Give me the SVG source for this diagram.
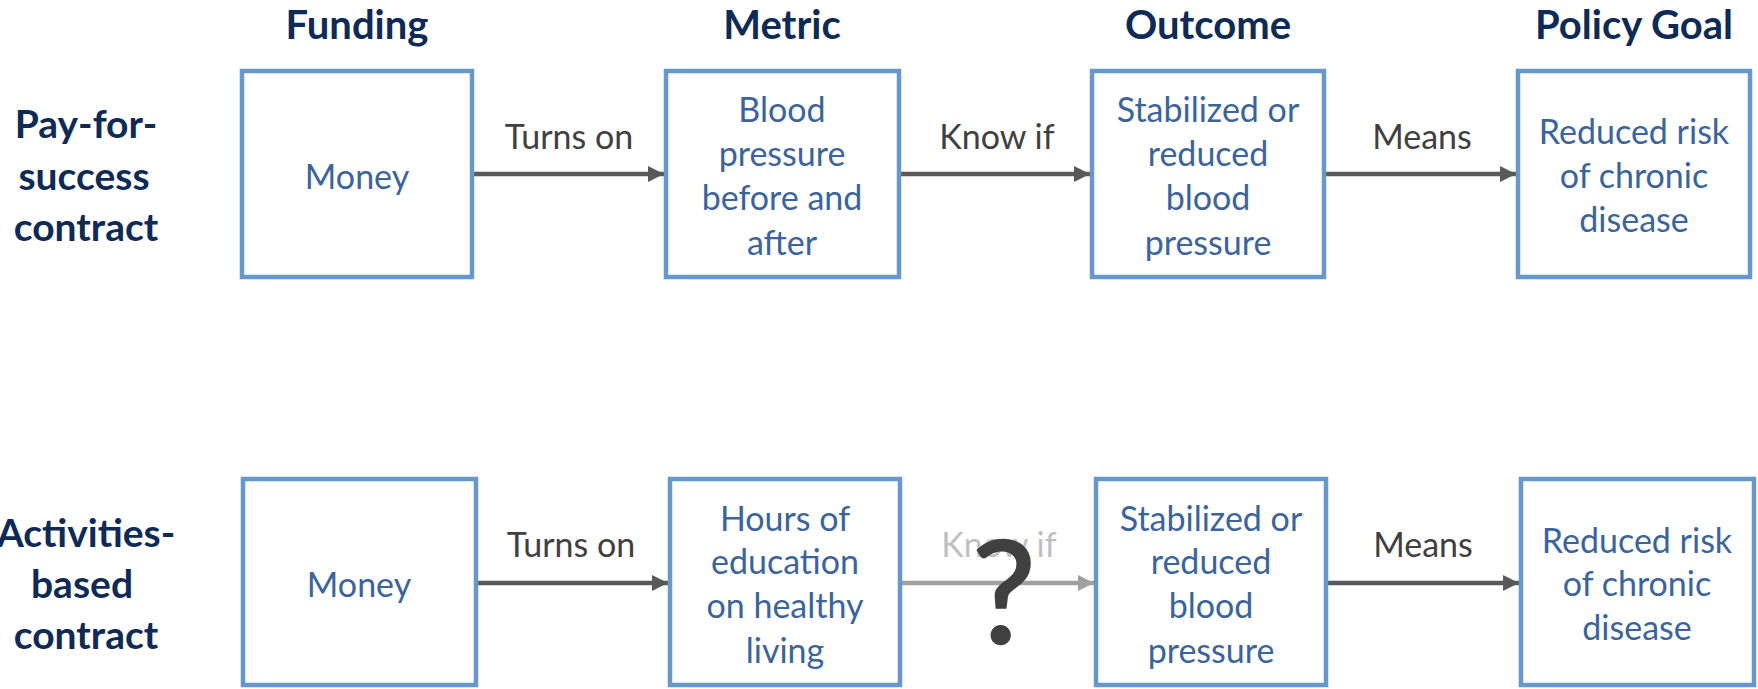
<svg xmlns="http://www.w3.org/2000/svg" width="1758" height="689" viewBox="0 0 1758 689">
<defs>
<style>
.box{fill:#ffffff;stroke:#6698CB;stroke-width:4.5}
.hd{font-family:Lato,"Open Sans",sans-serif;font-weight:bold;font-size:40px;fill:#0E2A55;text-anchor:middle}
.rl{font-family:Lato,"Open Sans",sans-serif;font-weight:bold;font-size:39px;fill:#0E2A55;text-anchor:middle}
.bt{font-family:Lato,"Open Sans",sans-serif;font-size:34px;fill:#3A649B;text-anchor:middle}
.al{font-family:Lato,"Open Sans",sans-serif;font-size:34px;fill:#404040;text-anchor:middle}
.ag{font-family:Lato,"Open Sans",sans-serif;font-size:34px;fill:#BFBFBF;text-anchor:middle}
.ln{stroke:#595959;stroke-width:4.5;fill:none}
.lg{stroke:#A0A0A0;stroke-width:4.5;fill:none}
.qm{font-family:Lato,"Open Sans",sans-serif;font-size:142px;fill:#404040;stroke:#404040;stroke-width:2.5;text-anchor:middle}
</style>
<marker id="ah" viewBox="0 0 16 16" refX="16" refY="8" markerWidth="16" markerHeight="16" markerUnits="userSpaceOnUse" orient="auto"><path d="M0,0 L16,8 L0,16 z" fill="#595959"/></marker>
<marker id="ahg" viewBox="0 0 16 16" refX="16" refY="8" markerWidth="16" markerHeight="16" markerUnits="userSpaceOnUse" orient="auto"><path d="M0,0 L16,8 L0,16 z" fill="#A0A0A0"/></marker>
</defs>
<rect width="1758" height="689" fill="#ffffff"/>
<g id="headers">
<text class="hd" x="357" y="39">Funding</text>
<text class="hd" x="782" y="39">Metric</text>
<text class="hd" x="1208" y="39">Outcome</text>
<text class="hd" x="1634" y="39">Policy Goal</text>
</g>
<g id="row1-label">
<text class="rl" x="86" y="138">Pay-for-</text>
<text class="rl" x="84" y="190">success</text>
<text class="rl" x="86" y="241">contract</text>
</g>
<g id="row2-label">
<text class="rl" x="86" y="547">Activities-</text>
<text class="rl" x="82" y="598">based</text>
<text class="rl" x="86" y="649">contract</text>
</g>
<g id="connectors">
<line class="ln" x1="474" y1="174" x2="664" y2="174" marker-end="url(#ah)"/>
<line class="ln" x1="901" y1="174" x2="1090" y2="174" marker-end="url(#ah)"/>
<line class="ln" x1="1326" y1="174" x2="1516" y2="174" marker-end="url(#ah)"/>
<line class="ln" x1="478" y1="583" x2="668" y2="583" marker-end="url(#ah)"/>
<line class="lg" x1="902" y1="583" x2="1094" y2="583" marker-end="url(#ahg)"/>
<line class="ln" x1="1328" y1="583" x2="1519" y2="583" marker-end="url(#ah)"/>
<text class="al" x="569" y="149">Turns on</text>
<text class="al" x="997" y="149">Know if</text>
<text class="al" x="1422" y="149">Means</text>
<text class="al" x="571" y="557">Turns on</text>
<text class="ag" x="999" y="557">Know if</text>
<text class="al" x="1423" y="557">Means</text>
<text class="qm" x="1004" y="643">?</text>
</g>
<g id="r1-funding">
<rect class="box" x="242" y="71" width="230" height="206"/>
<text class="bt" x="357" y="189">Money</text>
</g>
<g id="r1-metric">
<rect class="box" x="666" y="71" width="233" height="206"/>
<text class="bt" x="782" y="122">Blood</text>
<text class="bt" x="782" y="166">pressure</text>
<text class="bt" x="782" y="210">before and</text>
<text class="bt" x="782" y="255">after</text>
</g>
<g id="r1-outcome">
<rect class="box" x="1092" y="71" width="232" height="206"/>
<text class="bt" x="1208" y="122">Stabilized or</text>
<text class="bt" x="1208" y="166">reduced</text>
<text class="bt" x="1208" y="210">blood</text>
<text class="bt" x="1208" y="255">pressure</text>
</g>
<g id="r1-goal">
<rect class="box" x="1518" y="71" width="232" height="206"/>
<text class="bt" x="1634" y="144">Reduced risk</text>
<text class="bt" x="1634" y="188">of chronic</text>
<text class="bt" x="1634" y="232">disease</text>
</g>
<g id="r2-funding">
<rect class="box" x="243" y="479" width="233" height="206"/>
<text class="bt" x="359" y="597">Money</text>
</g>
<g id="r2-metric">
<rect class="box" x="670" y="479" width="230" height="206"/>
<text class="bt" x="785" y="531">Hours of</text>
<text class="bt" x="785" y="574">education</text>
<text class="bt" x="785" y="618">on healthy</text>
<text class="bt" x="785" y="663">living</text>
</g>
<g id="r2-outcome">
<rect class="box" x="1096" y="479" width="230" height="206"/>
<text class="bt" x="1211" y="531">Stabilized or</text>
<text class="bt" x="1211" y="574">reduced</text>
<text class="bt" x="1211" y="618">blood</text>
<text class="bt" x="1211" y="663">pressure</text>
</g>
<g id="r2-goal">
<rect class="box" x="1521" y="479" width="233" height="206"/>
<text class="bt" x="1637" y="553">Reduced risk</text>
<text class="bt" x="1637" y="596">of chronic</text>
<text class="bt" x="1637" y="640">disease</text>
</g>
</svg>
